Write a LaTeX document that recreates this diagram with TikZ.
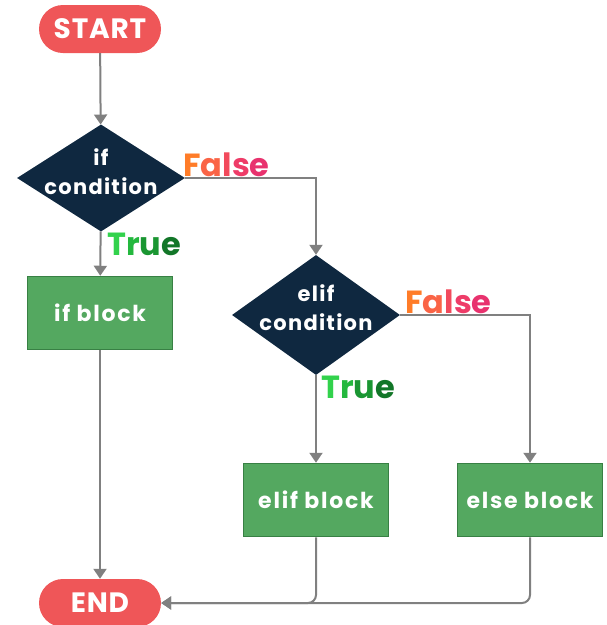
\documentclass[tikz,border=0pt]{standalone}
\usepackage{fontspec}
\setmainfont{Poppins}
\usepackage{tikz}
\usetikzlibrary{arrows.meta}
\usetikzlibrary{shapes.geometric}
\usetikzlibrary{positioning}

\definecolor{termred}{RGB}{239,86,88}
\definecolor{decnavy}{RGB}{15,40,64}
\definecolor{blockgreen}{RGB}{84,168,96}
\definecolor{blockedge}{RGB}{56,128,68}
\definecolor{linegray}{RGB}{128,128,128}
\definecolor{fA}{RGB}{255,124,40}
\definecolor{fB}{RGB}{250,100,70}
\definecolor{fC}{RGB}{242,74,92}
\definecolor{fD}{RGB}{238,60,104}
\definecolor{fE}{RGB}{232,50,110}
\definecolor{tA}{RGB}{50,210,76}
\definecolor{tB}{RGB}{36,184,62}
\definecolor{tC}{RGB}{26,150,50}
\definecolor{tD}{RGB}{18,118,40}

\tikzset{
	terminal/.style={fill=termred, rounded corners=24pt, minimum width=122pt, minimum height=48pt,
		text=white, font=\fontsize{28}{30}\selectfont\bfseries\addfontfeature{LetterSpace=3}},
	decision/.style={diamond, fill=decnavy, inner sep=0pt, minimum width=168pt},
	condtext/.style={text=white, align=center, inner sep=0pt,
		font=\fontsize{21}{29}\selectfont\bfseries\addfontfeature{LetterSpace=6}},
	block/.style={rectangle, fill=blockgreen, draw=blockedge, line width=1.5pt,
		minimum width=145pt, minimum height=73pt, text=white,
		font=\fontsize{22}{24}\selectfont\bfseries\addfontfeature{LetterSpace=8}},
	branch/.style={inner sep=1pt, font=\fontsize{32}{34}\selectfont\bfseries},
	flow/.style={draw=linegray, line width=2pt, -{Triangle[width=13pt,length=10pt]}},
}
\newcommand{\falsetext}{\textcolor{fA}{F}\textcolor{fB}{a}\textcolor{fC}{l}\textcolor{fD}{s}\textcolor{fE}{e}}
\newcommand{\truetext}{\textcolor{tA}{T}\textcolor{tB}{r}\textcolor{tC}{u}\textcolor{tD}{e}}

\begin{document}
\begin{tikzpicture}[x=1pt, y=-1pt]
		\useasboundingbox (0, 0) rectangle (607, 625);
		% Start and end
		\node [terminal] (start) at (100, 29) {START};
		\node [terminal] (stop) at (100, 603) {END};
		% First test
		\node [decision, minimum height=107pt, label={[condtext, yshift=6pt]center:{if\\condition}}] (ifcond) at (101, 178) {};
		\node [block] (ifblock) at (100, 313) {if block};
		% Second test
		\node [decision, minimum height=120pt, label={[condtext, yshift=7pt]center:{elif\\condition}}] (elifcond) at (316, 315) {};
		\node [block] (elifblock) at (316, 500) {elif block};
		\node [block] (elseblock) at (530, 500) {else block};
		% Connectors
		\draw [flow] (start) -- (ifcond);
		\draw [flow] (ifcond) -- (ifblock);
		\draw [flow] (ifblock) -- (stop);
		\draw [flow] (ifcond.east) -| (elifcond.north);
		\draw [flow] (elifcond) -- (elifblock);
		\draw [flow] (elifcond.east) -| (elseblock.north);
		\draw [flow, rounded corners=8pt] (elifblock.south) |- (stop.east);
		\draw [flow, rounded corners=8pt] (elseblock.south) |- (stop.east);
		% Branch labels
		\node [branch, anchor=south west] (iffalse) at ([xshift=-3pt]ifcond.east) {\falsetext};
		\node [branch, anchor=north west] (iftrue) at ([xshift=5pt]ifcond.south) {\truetext};
		\node [branch, anchor=south west] (eliffalse) at ([xshift=4pt]elifcond.east) {\falsetext};
		\node [branch, anchor=north west] (eliftrue) at ([xshift=4pt]elifcond.south) {\truetext};
\end{tikzpicture}
\end{document}
